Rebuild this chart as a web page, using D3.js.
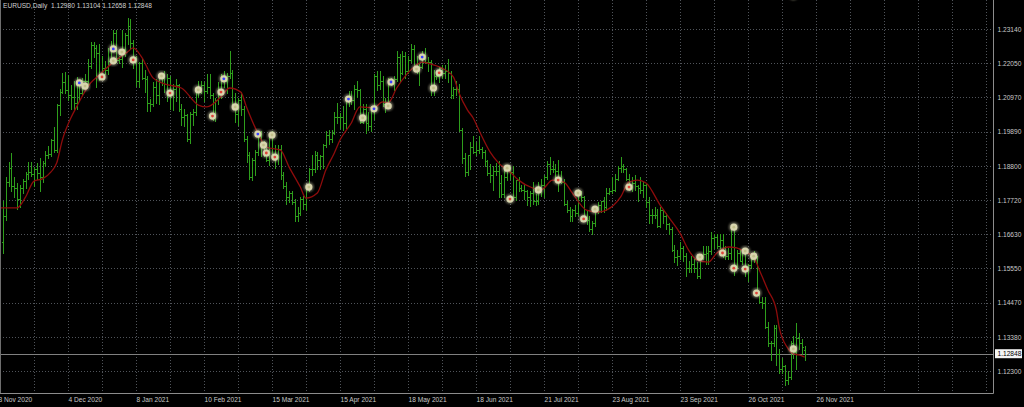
<!DOCTYPE html>
<html><head><meta charset="utf-8">
<script src="https://cdn.jsdelivr.net/npm/d3@7"></script>
<style>html,body{margin:0;padding:0;background:#000;overflow:hidden}</style>
</head><body>
<svg id="c" width="1024" height="407"></svg>
<script>
// ---------- DATA ----------
const symbolName = "EURUSD,Daily";
const lastQuote = ["1.12980", "1.13104", "1.12658", "1.12848"];
const lastPrice = 1.12848;

// daily bars [open, high, low, close]
const nov2020 = [
[1.1640,1.1770,1.1603,1.1722],[1.1722,1.1845,1.1710,1.1830],[1.1830,1.1891,1.1815,1.1875],
[1.1875,1.1920,1.1800,1.1815],[1.1815,1.1845,1.1780,1.1810],[1.1810,1.1825,1.1745,1.1775],
[1.1775,1.1818,1.1750,1.1810],[1.1810,1.1840,1.1795,1.1833],[1.1833,1.1862,1.1810,1.1855],
[1.1855,1.1894,1.1840,1.1862],[1.1862,1.1891,1.1848,1.1855],[1.1855,1.1878,1.1815,1.1870],
[1.1870,1.1890,1.1840,1.1857],[1.1857,1.1905,1.1800,1.1845],[1.1845,1.1895,1.1830,1.1890],
[1.1890,1.1926,1.1880,1.1915],[1.1915,1.1942,1.1905,1.1918],[1.1918,1.1965,1.1910,1.1962],
[1.1962,1.2004,1.1925,1.1930]];
const dec2020 = [
[1.1930,1.2077,1.1925,1.2072],[1.2072,1.2124,1.2040,1.2115],[1.2115,1.2176,1.2110,1.2145],
[1.2145,1.2177,1.2110,1.2122],[1.2122,1.2167,1.2088,1.2105],[1.2105,1.2135,1.2060,1.2100],
[1.2100,1.2150,1.2058,1.2078],[1.2078,1.2162,1.2060,1.2135],[1.2135,1.2150,1.2085,1.2112],
[1.2112,1.2160,1.2105,1.2148],[1.2148,1.2172,1.2125,1.2150],[1.2150,1.2220,1.2140,1.2197],
[1.2197,1.2273,1.2190,1.2262],[1.2262,1.2272,1.2225,1.2255],[1.2255,1.2262,1.2130,1.2237],
[1.2237,1.2265,1.2152,1.2165],[1.2165,1.2230,1.2160,1.2190],[1.2190,1.2212,1.2170,1.2185],
[1.2185,1.2255,1.2170,1.2212],[1.2212,1.2276,1.2205,1.2250],[1.2250,1.2310,1.2245,1.2300],
[1.2300,1.2310,1.2210,1.2215]];
const jan2021 = [
[1.2215,1.2230,1.2205,1.2220],[1.2220,1.2310,1.2195,1.2250],[1.2250,1.2300,1.2230,1.2295],
[1.2295,1.2349,1.2265,1.2325],[1.2325,1.2345,1.2250,1.2270],[1.2270,1.2280,1.2190,1.2220],
[1.2220,1.2230,1.2132,1.2150],[1.2150,1.2210,1.2130,1.2205],[1.2205,1.2222,1.2155,1.2160],
[1.2160,1.2185,1.2115,1.2155],[1.2155,1.2165,1.2055,1.2080],[1.2080,1.2092,1.2054,1.2075],
[1.2075,1.2145,1.2070,1.2130],[1.2130,1.2155,1.2080,1.2105],[1.2105,1.2175,1.2075,1.2165],
[1.2165,1.2175,1.2135,1.2170],[1.2170,1.2180,1.2115,1.2140],[1.2140,1.2170,1.2085,1.2160],
[1.2160,1.2165,1.2060,1.2110],[1.2110,1.2140,1.2058,1.2125],[1.2125,1.2155,1.2085,1.2135]];
const feb2021 = [
[1.2135,1.2140,1.2055,1.2060],[1.2060,1.2075,1.2010,1.2035],[1.2035,1.2060,1.2005,1.2040],
[1.2040,1.2045,1.1960,1.1965],[1.1965,1.2050,1.1952,1.2045],[1.2045,1.2060,1.2010,1.2050],
[1.2050,1.2125,1.2040,1.2118],[1.2118,1.2150,1.2100,1.2120],[1.2120,1.2150,1.2110,1.2135],
[1.2135,1.2145,1.2085,1.2118],[1.2118,1.2170,1.2110,1.2130],[1.2130,1.2170,1.2095,1.2105],
[1.2105,1.2110,1.2025,1.2040],[1.2040,1.2095,1.2022,1.2090],[1.2090,1.2145,1.2075,1.2120],
[1.2120,1.2170,1.2095,1.2155],[1.2155,1.2180,1.2130,1.2150],[1.2150,1.2175,1.2110,1.2165],
[1.2165,1.2243,1.2160,1.2175],[1.2175,1.2185,1.2070,1.2075]];
const mar2021 = [
[1.2075,1.2110,1.2020,1.2045],[1.2045,1.2095,1.2010,1.2090],[1.2090,1.2115,1.2040,1.2060],
[1.2060,1.2070,1.1960,1.1965],[1.1965,1.1975,1.1892,1.1915],[1.1915,1.1925,1.1837,1.1845],
[1.1845,1.1905,1.1835,1.1900],[1.1900,1.1930,1.1850,1.1925],[1.1925,1.1990,1.1915,1.1985],
[1.1985,1.1990,1.1910,1.1950],[1.1950,1.1960,1.1910,1.1930],[1.1930,1.1952,1.1895,1.1900],
[1.1900,1.1985,1.1882,1.1975],[1.1975,1.1990,1.1910,1.1915],[1.1915,1.1945,1.1875,1.1905],
[1.1905,1.1945,1.1885,1.1935],[1.1935,1.1945,1.1840,1.1850],[1.1850,1.1860,1.1810,1.1815],
[1.1815,1.1830,1.1760,1.1780],[1.1780,1.1800,1.1765,1.1795],[1.1795,1.1800,1.1760,1.1765],
[1.1765,1.1775,1.1705,1.1720],[1.1720,1.1750,1.1704,1.1730]];
const apr2021 = [
[1.1730,1.1780,1.1725,1.1775],[1.1775,1.1785,1.1745,1.1760],[1.1760,1.1820,1.1740,1.1812],
[1.1812,1.1875,1.1800,1.1870],[1.1870,1.1915,1.1850,1.1870],[1.1870,1.1927,1.1860,1.1915],
[1.1915,1.1925,1.1870,1.1900],[1.1900,1.1915,1.1870,1.1910],[1.1910,1.1950,1.1875,1.1945],
[1.1945,1.1990,1.1940,1.1978],[1.1978,1.1995,1.1950,1.1965],[1.1965,1.1995,1.1955,1.1985],
[1.1985,1.2050,1.1980,1.2035],[1.2035,1.2080,1.2015,1.2035],[1.2035,1.2048,1.2000,1.2035],
[1.2035,1.2070,1.1995,1.2015],[1.2015,1.2100,1.2000,1.2095],[1.2095,1.2117,1.2070,1.2085],
[1.2085,1.2118,1.2075,1.2090],[1.2090,1.2135,1.2060,1.2125],[1.2125,1.2150,1.2100,1.2120],
[1.2120,1.2125,1.2015,1.2020]];
const may2021 = [
[1.2020,1.2075,1.2015,1.2060],[1.2060,1.2075,1.1985,1.2015],[1.2015,1.2050,1.1995,1.2005],
[1.2005,1.2070,1.1990,1.2065],[1.2065,1.2170,1.2030,1.2165],[1.2165,1.2180,1.2120,1.2135],
[1.2135,1.2181,1.2125,1.2150],[1.2150,1.2165,1.2070,1.2075],[1.2075,1.2095,1.2050,1.2080],
[1.2080,1.2160,1.2075,1.2145],[1.2145,1.2160,1.2135,1.2145],[1.2145,1.2165,1.2120,1.2155],
[1.2155,1.2245,1.2150,1.2225],[1.2225,1.2235,1.2150,1.2175],[1.2175,1.2245,1.2170,1.2230],
[1.2230,1.2240,1.2160,1.2180],[1.2180,1.2230,1.2175,1.2215],[1.2215,1.2265,1.2210,1.2250],
[1.2250,1.2262,1.2190,1.2195],[1.2195,1.2230,1.2175,1.2195],[1.2195,1.2205,1.2135,1.2195],
[1.2195,1.2245,1.2190,1.2225]];
const jun2021 = [
[1.2225,1.2255,1.2205,1.2210],[1.2210,1.2225,1.2180,1.2210],[1.2210,1.2215,1.2105,1.2125],
[1.2125,1.2185,1.2105,1.2165],[1.2165,1.2180,1.2155,1.2165],[1.2165,1.2195,1.2145,1.2190],
[1.2190,1.2200,1.2160,1.2175],[1.2175,1.2200,1.2160,1.2180],[1.2180,1.2218,1.2145,1.2175],
[1.2175,1.2180,1.2095,1.2105],[1.2105,1.2130,1.2095,1.2125],[1.2125,1.2150,1.2105,1.2125],
[1.2125,1.2140,1.1990,1.1995],[1.1995,1.2000,1.1890,1.1905],[1.1905,1.1920,1.1847,1.1860],
[1.1860,1.1915,1.1850,1.1915],[1.1915,1.1955,1.1870,1.1940],[1.1940,1.1975,1.1920,1.1925],
[1.1925,1.1955,1.1915,1.1930],[1.1930,1.1975,1.1920,1.1935],[1.1935,1.1940,1.1905,1.1925],
[1.1925,1.1930,1.1880,1.1895],[1.1895,1.1900,1.1850,1.1858]];
const jul2021 = [
[1.1858,1.1885,1.1830,1.1850],[1.1850,1.1880,1.1805,1.1865],[1.1865,1.1890,1.1850,1.1865],
[1.1865,1.1895,1.1782,1.1825],[1.1825,1.1850,1.1780,1.1790],[1.1790,1.1870,1.1780,1.1845],
[1.1845,1.1880,1.1835,1.1875],[1.1875,1.1880,1.1840,1.1860],[1.1860,1.1880,1.1775,1.1780],
[1.1780,1.1835,1.1772,1.1835],[1.1835,1.1845,1.1800,1.1810],[1.1810,1.1820,1.1800,1.1805],
[1.1805,1.1820,1.1775,1.1800],[1.1800,1.1805,1.1755,1.1780],[1.1780,1.1800,1.1752,1.1795],
[1.1795,1.1830,1.1760,1.1770],[1.1770,1.1790,1.1755,1.1770],[1.1770,1.1830,1.1760,1.1800],
[1.1800,1.1840,1.1785,1.1820],[1.1820,1.1850,1.1780,1.1845],[1.1845,1.1895,1.1840,1.1885],
[1.1885,1.1909,1.1855,1.1870]];
const aug2021 = [
[1.1870,1.1895,1.1860,1.1870],[1.1870,1.1885,1.1840,1.1865],[1.1865,1.1900,1.1800,1.1835],
[1.1835,1.1865,1.1825,1.1830],[1.1830,1.1840,1.1755,1.1760],[1.1760,1.1770,1.1735,1.1740],
[1.1740,1.1750,1.1705,1.1720],[1.1720,1.1745,1.1705,1.1740],[1.1740,1.1755,1.1720,1.1730],
[1.1730,1.1805,1.1725,1.1795],[1.1795,1.1800,1.1770,1.1780],[1.1780,1.1785,1.1710,1.1710],
[1.1710,1.1740,1.1695,1.1710],[1.1710,1.1720,1.1675,1.1680],[1.1680,1.1705,1.1664,1.1700],
[1.1700,1.1750,1.1690,1.1745],[1.1745,1.1765,1.1730,1.1755],[1.1755,1.1770,1.1735,1.1770],
[1.1770,1.1780,1.1735,1.1750],[1.1750,1.1810,1.1740,1.1795],[1.1795,1.1810,1.1790,1.1800],
[1.1800,1.1845,1.1795,1.1805]];
const sep2021 = [
[1.1805,1.1855,1.1800,1.1840],[1.1840,1.1880,1.1835,1.1875],[1.1875,1.1909,1.1860,1.1880],
[1.1880,1.1885,1.1860,1.1870],[1.1870,1.1875,1.1835,1.1840],[1.1840,1.1855,1.1805,1.1820],
[1.1820,1.1845,1.1800,1.1825],[1.1825,1.1850,1.1805,1.1815],[1.1815,1.1820,1.1770,1.1810],
[1.1810,1.1845,1.1795,1.1805],[1.1805,1.1830,1.1780,1.1820],[1.1820,1.1825,1.1750,1.1765],
[1.1765,1.1780,1.1700,1.1725],[1.1725,1.1745,1.1700,1.1725],[1.1725,1.1750,1.1715,1.1725],
[1.1725,1.1745,1.1685,1.1690],[1.1690,1.1750,1.1685,1.1740],[1.1740,1.1745,1.1700,1.1720],
[1.1720,1.1730,1.1680,1.1695],[1.1695,1.1700,1.1665,1.1680],[1.1680,1.1685,1.1610,1.1615],
[1.1615,1.1630,1.1575,1.1590]];
const oct2021 = [
[1.1590,1.1615,1.1565,1.1595],[1.1595,1.1640,1.1585,1.1620],[1.1620,1.1625,1.1580,1.1595],
[1.1595,1.1605,1.1530,1.1555],[1.1555,1.1580,1.1545,1.1555],[1.1555,1.1595,1.1545,1.1570],
[1.1570,1.1585,1.1545,1.1555],[1.1555,1.1575,1.1524,1.1530],[1.1530,1.1595,1.1525,1.1595],
[1.1595,1.1625,1.1585,1.1600],[1.1600,1.1625,1.1570,1.1605],[1.1605,1.1625,1.1570,1.1610],
[1.1610,1.1670,1.1600,1.1650],[1.1650,1.1665,1.1620,1.1655],[1.1655,1.1665,1.1620,1.1625],
[1.1625,1.1665,1.1620,1.1645],[1.1645,1.1665,1.1590,1.1605],[1.1605,1.1625,1.1585,1.1595],
[1.1595,1.1620,1.1585,1.1605],[1.1605,1.1692,1.1585,1.1680],[1.1680,1.1690,1.1535,1.1560]];
const nov2021 = [
[1.1560,1.1615,1.1555,1.1605],[1.1605,1.1615,1.1580,1.1580],[1.1580,1.1615,1.1570,1.1610],
[1.1610,1.1615,1.1530,1.1555],[1.1555,1.1570,1.1515,1.1565],[1.1565,1.1590,1.1555,1.1585],
[1.1585,1.1610,1.1575,1.1590],[1.1590,1.1595,1.1480,1.1480],[1.1480,1.1485,1.1445,1.1450],
[1.1450,1.1465,1.1430,1.1445],[1.1445,1.1465,1.1365,1.1370],[1.1370,1.1385,1.1310,1.1320],
[1.1320,1.1325,1.1265,1.1320],[1.1320,1.1375,1.1310,1.1365],[1.1365,1.1375,1.1250,1.1285],
[1.1285,1.1300,1.1225,1.1235],[1.1235,1.1270,1.1225,1.1245],[1.1245,1.1250,1.1186,1.1200],
[1.1200,1.1230,1.1190,1.1210],[1.1210,1.1325,1.1205,1.1320],[1.1320,1.1340,1.1270,1.1290],
[1.1290,1.1383,1.1235,1.1335]];
const dec2021 = [
[1.1335,1.1350,1.1300,1.1320],[1.1320,1.1330,1.1285,1.1305],[1.12980,1.13104,1.12658,1.12848]];
const months = [nov2020, dec2020, jan2021, feb2021, mar2021, apr2021, may2021,
                jun2021, jul2021, aug2021, sep2021, oct2021, nov2021, dec2021];

// price axis ticks
const priceTicks = [1.23140, 1.22050, 1.20970, 1.19890, 1.18800, 1.17720,
                    1.16630, 1.15550, 1.14470, 1.13380, 1.12300];
// time axis labels (bar slot of each label)
const dateLabels = ["3 Nov 2020", "4 Dec 2020", "8 Jan 2021", "10 Feb 2021", "15 Mar 2021",
  "15 Apr 2021", "18 May 2021", "18 Jun 2021", "21 Jul 2021", "23 Aug 2021",
  "23 Sep 2021", "26 Oct 2021", "26 Nov 2021"];
const dateSlots = [0, 24, 48, 72, 96, 120, 144, 168, 192, 216, 240, 264, 288];
const gridSlots = d3.range(0, 349, 12);

// moving average
const maSlots = [0,6,9,12,15,18,20,22,25,27,32,35,40,45,47,50,54,58,64,70,73,78,81,85,87,91,94,99,102,106,
 108,112,115,118,120,124,127,132,135,137,140,144,147,149,153,156,160,162,165,167,169,173,176,180,183,188,191,195,199,202,
 207,211,214,219,222,225,228,233,236,240,243,246,250,253,257,260,263,266,268,271,274,275,278,280,282,284];
const maValues = [1.1747,1.1747,1.1781,1.1832,1.1839,1.1861,1.1889,1.1962,1.2032,1.2067,
 1.2143,1.2168,1.2209,1.2241,1.2254,1.2225,1.2159,1.2140,1.2127,1.2073,
 1.2067,1.2099,1.2127,1.2114,1.2067,1.1984,1.1940,1.1930,1.1877,1.1813,
 1.1778,1.1794,1.1867,1.1921,1.1962,1.2016,1.2067,1.2064,1.2083,1.2080,
 1.2127,1.2175,1.2200,1.2209,1.2200,1.2190,1.2162,1.2111,1.2057,1.2032,
 1.1994,1.1924,1.1889,1.1861,1.1835,1.1810,1.1804,1.1835,1.1829,1.1794,
 1.1740,1.1734,1.1740,1.1781,1.1829,1.1835,1.1826,1.1756,1.1718,1.1667,
 1.1614,1.1582,1.1575,1.1604,1.1623,1.1620,1.1607,1.1591,1.1550,1.1487,
 1.1423,1.1369,1.1303,1.1284,1.1281,1.1274];

// signal markers
const markerSlots = [28,30,36,40,40,43,47,57,60,70,75,78,79,83,91,93,94,96,97,109,123,128,132,137,138,147,149,153,155,
 179,180,190,197,204,206,210,222,247,255,259,259,263,263,266,267,280,280];
const markerPrices = [1.2143,1.2133,1.2162,1.2213,1.2251,1.2241,1.2216,1.2165,1.2111,1.2121,1.2038,1.2114,1.2156,1.2067,
 1.1981,1.1946,1.1921,1.1978,1.1908,1.1813,1.2092,1.2032,1.2061,1.2070,1.2146,1.2187,1.2225,1.2127,1.2175,
 1.1873,1.1775,1.1804,1.1835,1.1794,1.1712,1.1743,1.1813,1.1591,1.1604,1.1686,1.1556,1.1610,1.1553,1.1594,1.1477,1.1300,1.2421];
const markerKinds = ["b","n","r","n","b","n","r","n","r","n","r","r","b","n","b","n","r","n","r","n","b","n","b","n","b","n","b","n","r",
 "n","r","n","r","n","r","n","r","n","r","n","r","n","r","n","r","n","b"];

// ---------- DRAW ----------
const svg = d3.select("#c");
const plotRight = 993.5, plotBottom = 393.5;
const x = d3.scaleLinear().domain([0, 348]).range([0, 986]);
const y = d3.scaleLinear().domain([1.12300, 1.23140]).range([371, 29]);
const font = "'Liberation Sans', Arial, sans-serif";
const crisp = v => Math.round(v) + 0.5;

svg.append("rect").attr("width", 1024).attr("height", 407).attr("fill", "#000");

const defs = svg.append("defs");
defs.append("clipPath").attr("id", "plot").append("rect")
  .attr("x", 0).attr("y", -8).attr("width", 993).attr("height", 401);
defs.append("filter").attr("id", "soft").append("feGaussianBlur").attr("stdDeviation", 0.35);
defs.append("filter").attr("id", "glow").append("feGaussianBlur").attr("stdDeviation", 1.1);

// grid
const grid = svg.append("g").attr("stroke", "#50545a").attr("stroke-dasharray", "1,2").attr("stroke-width", 1);
grid.selectAll("line.h").data(priceTicks).join("line")
  .attr("x1", 0).attr("x2", plotRight).attr("y1", d => crisp(y(d))).attr("y2", d => crisp(y(d)));
grid.selectAll("line.v").data(gridSlots.filter(d => d > 0)).join("line")
  .attr("x1", d => crisp(x(d))).attr("x2", d => crisp(x(d))).attr("y1", 0).attr("y2", plotBottom);

// current price line
svg.append("line").attr("x1", 0).attr("x2", plotRight)
  .attr("y1", crisp(y(lastPrice))).attr("y2", crisp(y(lastPrice)))
  .attr("stroke", "#808080").attr("stroke-width", 1);

const plot = svg.append("g").attr("clip-path", "url(#plot)");

// bars
const bars = months.flat().map((b, i) => ({slot: i + 1, o: b[0], h: b[1], l: b[2], c: b[3]}));
plot.append("g").attr("filter", "url(#soft)").selectAll("path").data(bars).join("path")
  .attr("fill", "none").attr("stroke", "#2f9e1f").attr("stroke-width", 1)
  .attr("d", d => {
    const bx = crisp(x(d.slot));
    return `M${bx},${Math.round(y(d.h))}V${Math.round(y(d.l)) + 1}` +
           `M${bx - 1.5},${crisp(y(d.o))}H${bx}M${bx},${crisp(y(d.c))}H${bx + 1.5}`;
  });

// moving average
const maData = maSlots.map((s, i) => [s, maValues[i]]);
plot.append("path").datum(maData)
  .attr("fill", "none").attr("stroke", "#8e0c0c").attr("stroke-width", 1.3)
  .attr("d", d3.line().x(d => x(d[0])).y(d => y(d[1])).curve(d3.curveMonotoneX));

// markers
const markers = markerSlots.map((s, i) => ({slot: s, p: markerPrices[i], k: markerKinds[i]}));
const mg = plot.append("g");
mg.selectAll("circle.g").data(markers).join("circle")
  .attr("cx", d => x(d.slot)).attr("cy", d => y(d.p)).attr("r", 5)
  .attr("fill", "#e8e4c0").attr("opacity", 0.45).attr("filter", "url(#glow)");
mg.selectAll("circle.m").data(markers).join("circle")
  .attr("cx", d => x(d.slot)).attr("cy", d => y(d.p)).attr("r", 3.6)
  .attr("fill", "#d8d5ae");
mg.selectAll("circle.d").data(markers).join("circle")
  .attr("cx", d => x(d.slot)).attr("cy", d => y(d.p)).attr("r", 1.4)
  .attr("fill", d => d.k === "r" ? "#e0443a" : d.k === "b" ? "#3a40ff" : "#c2c08a");

// frame
svg.append("line").attr("x1", 0.5).attr("x2", 0.5).attr("y1", 0).attr("y2", plotBottom)
  .attr("stroke", "#6e6e6e");
svg.append("line").attr("x1", plotRight).attr("x2", plotRight).attr("y1", 0).attr("y2", plotBottom)
  .attr("stroke", "#8c8c8c");
svg.append("line").attr("x1", 0).attr("x2", plotRight).attr("y1", plotBottom).attr("y2", plotBottom)
  .attr("stroke", "#8c8c8c");

// price axis labels
const yAxis = d3.axisRight(y).tickValues(priceTicks).tickFormat(d3.format(".5f")).tickSize(0).tickPadding(4);
const ya = svg.append("g").attr("transform", `translate(${plotRight},0)`).call(yAxis);
ya.select(".domain").remove();
ya.selectAll("text").attr("fill", "#c8c8c8").attr("font-family", font).attr("font-size", 6.6);

// current price tag
const tagY = y(lastPrice);
svg.append("rect").attr("x", 995).attr("y", tagY - 4.5).attr("width", 27).attr("height", 9).attr("fill", "#f4f4f4");
svg.append("text").attr("x", 997.5).attr("y", tagY).attr("dy", "0.32em")
  .attr("fill", "#000").attr("font-family", font).attr("font-size", 6.6).text(d3.format(".5f")(lastPrice));

// time axis labels
const xAxis = d3.axisBottom(x).tickValues(dateSlots).tickFormat((d, i) => dateLabels[i]).tickSize(0).tickPadding(4);
const xa = svg.append("g").attr("transform", `translate(0,${plotBottom})`).call(xAxis);
xa.select(".domain").remove();
xa.selectAll("text").attr("fill", "#c8c8c8").attr("font-family", font).attr("font-size", 6.6)
  .attr("text-anchor", "start").attr("dx", (d, i) => i === 0 ? -2 : 0);

// header
svg.append("text").attr("x", 3).attr("y", 8).attr("fill", "#d0d0d0")
  .attr("font-family", font).attr("font-size", 6.6)
  .attr("xml:space", "preserve")
  .text(symbolName + "  " + lastQuote.join(" "));
</script>
</body></html>
